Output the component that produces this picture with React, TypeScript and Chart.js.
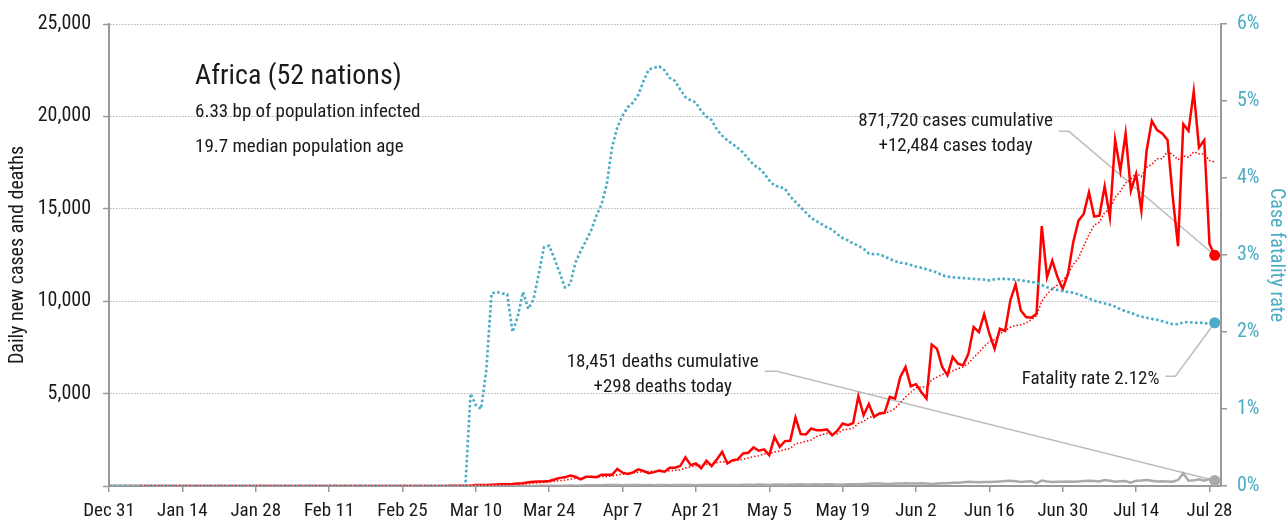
import React, { useEffect, useRef } from "react";
import { Chart, registerables } from "chart.js";

Chart.register(...registerables);

// ---- Axis tick labels (every 14 days from Dec 31) ----
const tickLabels = [
  "Dec 31", "Jan 14", "Jan 28", "Feb 11", "Feb 25", "Mar 10", "Mar 24", "Apr 7",
  "Apr 21", "May 5", "May 19", "Jun 2", "Jun 16", "Jun 30", "Jul 14", "Jul 28",
];
const tickDays = [0, 14, 28, 42, 56, 70, 84, 98, 112, 126, 140, 154, 168, 182, 196, 210];

// ---- Daily new cases, Dec 31 (day 0) .. Jul 29 (day 211) ----
const cases = [
  0, 0, 0, 0, 0, 0, 0, 0, 0, 0,
  0, 0, 0, 0, 0, 0, 0, 0, 0, 0,
  0, 0, 0, 0, 0, 0, 0, 0, 0, 0,
  0, 0, 0, 0, 0, 0, 0, 0, 0, 0,
  0, 0, 0, 0, 0, 1, 0, 0, 0, 0,
  0, 0, 0, 0, 0, 1, 0, 0, 1, 2,
  2, 1, 3, 5, 4, 10, 8, 15, 20, 30,
  50, 60, 60, 70, 80, 90, 100, 110, 140, 150,
  200, 230, 240, 250, 270, 350, 440, 470, 570, 500,
  360, 500, 500, 480, 610, 610, 610, 920, 720, 650,
  740, 900, 810, 690, 750, 830, 770, 990, 990, 1080,
  1550, 1130, 1220, 950, 1370, 1080, 1440, 1850, 1220, 1400,
  1440, 1760, 1800, 2090, 1910, 1980, 1670, 2660, 2120, 2430,
  2450, 3700, 2810, 2790, 3110, 3020, 3020, 3060, 2750, 2990,
  3380, 3290, 3400, 4860, 3830, 4430, 3740, 3920, 3960, 4820,
  4730, 5900, 6440, 5400, 5510, 5090, 4730, 7650, 7430, 6440,
  5990, 6980, 6620, 6530, 7160, 8600, 8330, 9290, 8240, 7430,
  8510, 8390, 10040, 10910, 9500, 9140, 9110, 9320, 14060, 11300,
  12200, 11300, 10670, 11480, 13190, 14360, 14720, 15890, 14580, 14630,
  16220, 14540, 18720, 17060, 19080, 15980, 16880, 14900, 18140, 19760,
  19260, 19080, 18720, 15620, 12980, 19580, 19220, 21350, 18320, 18720,
  13100, 12484,
];

// ---- 7-day average of new cases (dotted red) ----
const casesAvg = [
  null, null, null, null, null, null, 0, 0, 0, 0,
  0, 0, 0, 0, 0, 0, 0, 0, 0, 0,
  0, 0, 0, 0, 0, 0, 0, 0, 0, 0,
  0, 0, 0, 0, 0, 0, 0, 0, 0, 0,
  0, 0, 0, 0, 0, 0, 0, 0, 0, 0,
  0, 0, 0, 0, 0, 0, 0, 0, 0, 1,
  1, 1, 2, 2, 3, 4, 5, 7, 9, 13,
  20, 27, 34, 42, 51, 60, 70, 80, 93, 107,
  128, 153, 177, 201, 220, 250, 290, 320, 370, 410,
  430, 460, 480, 490, 500, 520, 540, 600, 640, 660,
  700, 740, 770, 780, 800, 810, 790, 820, 850, 870,
  980, 1030, 1100, 1130, 1180, 1190, 1260, 1300, 1320, 1330,
  1400, 1450, 1510, 1600, 1640, 1730, 1760, 1840, 1880, 1970,
  2030, 2290, 2340, 2420, 2490, 2680, 2770, 2850, 2790, 2820,
  3030, 3070, 3130, 3390, 3500, 3700, 3800, 3880, 3950, 4020,
  4200, 4500, 4820, 5070, 5320, 5360, 5350, 5740, 5890, 6040,
  6120, 6230, 6350, 6440, 6640, 6950, 7230, 7550, 7810, 7920,
  8230, 8400, 8590, 8690, 8720, 8820, 9000, 9210, 10000, 10380,
  10660, 10880, 11120, 11460, 11990, 12330, 12990, 13600, 14120, 14280,
  14800, 14990, 15610, 15950, 16400, 16600, 16930, 16740, 17250, 17400,
  17710, 17710, 18110, 17930, 17650, 17860, 17780, 18080, 17970, 17970,
  17610, 17540,
];

// ---- Daily new deaths ----
const deaths = [
  0, 0, 0, 0, 0, 0, 0, 0, 0, 0,
  0, 0, 0, 0, 0, 0, 0, 0, 0, 0,
  0, 0, 0, 0, 0, 0, 0, 0, 0, 0,
  0, 0, 0, 0, 0, 0, 0, 0, 0, 0,
  0, 0, 0, 0, 0, 0, 0, 0, 0, 0,
  0, 0, 0, 0, 0, 0, 0, 0, 0, 0,
  0, 0, 0, 0, 0, 0, 0, 0, 1, 0,
  1, 1, 2, 2, 0, 2, 2, 3, 2, 5,
  5, 6, 10, 10, 12, 15, 15, 20, 25, 20,
  30, 35, 40, 45, 40, 50, 60, 55, 45, 50,
  60, 55, 45, 50, 40, 50, 55, 45, 50, 60,
  55, 50, 45, 55, 60, 50, 55, 60, 50, 55,
  60, 65, 70, 55, 75, 70, 60, 80, 75, 70,
  85, 80, 90, 75, 85, 90, 80, 95, 100, 70,
  80, 90, 100, 95, 110, 120, 130, 140, 120, 110,
  130, 140, 145, 130, 140, 145, 130, 110, 130, 145,
  150, 170, 180, 200, 235, 220, 200, 210, 215, 230,
  250, 270, 290, 260, 215, 240, 255, 145, 290, 240,
  215, 230, 235, 240, 235, 250, 270, 290, 270, 250,
  325, 280, 235, 260, 270, 180, 290, 300, 325, 280,
  250, 255, 250, 235, 325, 684, 290, 310, 360, 290,
  370, 298,
];

// ---- Case fatality rate, % (right axis) ----
const fatalityRate = [
  0, 0, 0, 0, 0, 0, 0, 0, 0, 0,
  0, 0, 0, 0, 0, 0, 0, 0, 0, 0,
  0, 0, 0, 0, 0, 0, 0, 0, 0, 0,
  0, 0, 0, 0, 0, 0, 0, 0, 0, 0,
  0, 0, 0, 0, 0, 0, 0, 0, 0, 0,
  0, 0, 0, 0, 0, 0, 0, 0, 0, 0,
  0, 0, 0, 0, 0, 0, 0, 0, 0, 1.2,
  1.05, 1.0, 1.5, 2.5, 2.52, 2.5, 2.49, 2.0, 2.2, 2.52,
  2.3, 2.42, 2.75, 3.1, 3.12, 2.95, 2.77, 2.58, 2.62, 2.9,
  3.05, 3.18, 3.32, 3.51, 3.66, 3.92, 4.4, 4.66, 4.81, 4.92,
  4.98, 5.08, 5.26, 5.41, 5.43, 5.45, 5.4, 5.3, 5.26, 5.15,
  5.05, 5.01, 4.98, 4.87, 4.8, 4.75, 4.63, 4.55, 4.49, 4.44,
  4.39, 4.33, 4.25, 4.17, 4.13, 4.06, 3.97, 3.9, 3.885, 3.86,
  3.76, 3.69, 3.62, 3.55, 3.48, 3.44, 3.4, 3.36, 3.33, 3.27,
  3.22, 3.19, 3.15, 3.12, 3.08, 3.02, 3.01, 3.01, 2.98, 2.95,
  2.92, 2.9, 2.89, 2.87, 2.85, 2.835, 2.815, 2.795, 2.775, 2.735,
  2.72, 2.71, 2.705, 2.7, 2.695, 2.69, 2.685, 2.68, 2.67, 2.685,
  2.69, 2.69, 2.685, 2.68, 2.67, 2.66, 2.65, 2.64, 2.61, 2.58,
  2.56, 2.545, 2.53, 2.52, 2.51, 2.49, 2.465, 2.435, 2.405, 2.39,
  2.37, 2.355, 2.33, 2.295, 2.27, 2.25, 2.22, 2.2, 2.185, 2.17,
  2.16, 2.14, 2.12, 2.1, 2.1, 2.125, 2.13, 2.12, 2.12, 2.12,
  2.1, 2.12,
];

// day offset of each sample (x position on the linear date axis)
const dayIndex = cases.map((_, i) => i);

// ---- Text ----
const titleText = "Africa (52 nations)";
const subtitleLines = ["6.33 bp of population infected", "19.7 median population age"];
const notes = [
  { lines: ["871,720 cases cumulative", "+12,484 cases today"], align: "center", day: 161.55, value: 19490, leaderDy: 5.5, leaderRun: 10, target: 0 },
  { lines: ["18,451 deaths cumulative", "+298 deaths today"], align: "center", day: 105.66, value: 6425, leaderDy: 4, leaderRun: 12, target: 1 },
  { lines: ["Fatality rate 2.12%"], align: "right", day: 200.46, value: 5508, leaderDy: -8, leaderRun: 10, target: 2 },
];

const RED = "#ff0000";
const TEAL = "#4bacc6";
const GRAY = "#aaaaaa";
const AXIS = "#999999";
const GRID = "#b4b4b4";
const INK = "#1a1a1a";
const LEADER = "#bdbdbd";

function pickFont(): string {
  const c = document.createElement("canvas").getContext("2d");
  if (!c) return "sans-serif";
  const probe = "Africa (52 nations) 871,720 cases";
  const candidates = ["Liberation Sans Narrow", "Roboto Condensed", "DejaVu Sans Condensed", "Liberation Sans"];
  for (const f of candidates) {
    let differs = false;
    for (const base of ["monospace", "serif"]) {
      c.font = `20px ${base}`;
      const a = c.measureText(probe).width;
      c.font = `20px "${f}", ${base}`;
      const b = c.measureText(probe).width;
      if (Math.abs(a - b) > 0.5) differs = true; else { differs = false; break; }
    }
    if (differs) return f;
  }
  return "sans-serif";
}

export default function App() {
  const ref = useRef<HTMLCanvasElement | null>(null);

  useEffect(() => {
    document.body.style.margin = "0";
    const family = pickFont();
    const FAMILY = `"${family}", sans-serif`;
    Chart.defaults.font.family = FAMILY;

    const last = cases.length - 1;
    const endDot = (r: number) => (ctx: any) => (ctx.dataIndex === last ? r : 0);

    const textPlugin = {
      id: "textNotes",
      beforeDatasetsDraw(chart: any) {
        const { ctx } = chart;
        const xs = chart.scales.x;
        const ys = chart.scales.y;
        ctx.save();
        ctx.font = `19px ${FAMILY}`;
        ctx.strokeStyle = LEADER;
        ctx.lineWidth = 1.5;
        notes.forEach((n) => {
          const ax = xs.getPixelForValue(n.day);
          const ay = ys.getPixelForValue(n.value);
          const w = Math.max(...n.lines.map((l) => ctx.measureText(l).width));
          const right = n.align === "center" ? ax + w / 2 : ax;
          const el = chart.getDatasetMeta(n.target).data[last];
          const sx = right + 6;
          const sy = ay + n.leaderDy;
          ctx.beginPath();
          ctx.moveTo(sx, sy);
          ctx.lineTo(sx + n.leaderRun, sy);
          ctx.lineTo(el.x, el.y);
          ctx.stroke();
        });
        ctx.restore();
      },
      afterDatasetsDraw(chart: any) {
        const { ctx, chartArea } = chart;
        const xs = chart.scales.x;
        const ys = chart.scales.y;
        ctx.save();
        ctx.fillStyle = INK;
        ctx.textBaseline = "alphabetic";
        // title block
        const tx = chartArea.left + 86;
        ctx.textAlign = "left";
        ctx.font = `28px ${FAMILY}`;
        ctx.fillText(titleText, tx, chartArea.top + 60);
        ctx.font = `19px ${FAMILY}`;
        subtitleLines.forEach((l, i) => ctx.fillText(l, tx, chartArea.top + 93 + i * 35));
        // annotations
        notes.forEach((n) => {
          const ax = xs.getPixelForValue(n.day);
          const ay = ys.getPixelForValue(n.value);
          ctx.textAlign = n.align as CanvasTextAlign;
          n.lines.forEach((l, i) => ctx.fillText(l, ax, ay + i * 25));
        });
        ctx.restore();
      },
    };

    const chart = new Chart(ref.current as HTMLCanvasElement, {
      type: "line",
      data: {
        labels: dayIndex,
        datasets: [
          {
            label: "Daily new cases",
            data: cases,
            yAxisID: "y",
            borderColor: RED,
            backgroundColor: RED,
            borderWidth: 2.5,
            pointRadius: endDot(5.5),
            pointHoverRadius: 0,
            pointBorderWidth: 0,
            pointBackgroundColor: RED,
            order: 4,
          },
          {
            label: "Daily deaths",
            data: deaths,
            yAxisID: "y",
            borderColor: GRAY,
            backgroundColor: GRAY,
            borderWidth: 2.5,
            pointRadius: endDot(5.5),
            pointHoverRadius: 0,
            pointBorderWidth: 0,
            pointBackgroundColor: GRAY,
            order: 3,
          },
          {
            label: "Case fatality rate",
            data: fatalityRate,
            yAxisID: "y1",
            borderColor: TEAL,
            backgroundColor: TEAL,
            borderWidth: 2.6,
            borderDash: [2.6, 2.4],
            pointRadius: endDot(5.5),
            pointHoverRadius: 0,
            pointBorderWidth: 0,
            pointBackgroundColor: TEAL,
            order: 2,
          },
          {
            label: "7-day average cases",
            data: casesAvg,
            yAxisID: "y",
            borderColor: RED,
            borderWidth: 1.5,
            borderDash: [1.5, 2],
            pointRadius: 0,
            pointHoverRadius: 0,
            order: 1,
          },
        ],
      },
      options: {
        responsive: false,
        animation: false,
        devicePixelRatio: 1,
        layout: { padding: { top: 23, left: 0, right: 0, bottom: 0 } },
        plugins: { legend: { display: false }, tooltip: { enabled: false }, title: { display: false } },
        elements: { line: { tension: 0 } },
        scales: {
          x: {
            type: "linear",
            min: 0,
            max: 212.2,
            afterBuildTicks: (s: any) => {
              s.ticks = tickDays.map((v) => ({ value: v }));
            },
            ticks: {
              autoSkip: false,
              maxRotation: 0,
              color: INK,
              font: { size: 19 },
              padding: 8,
              callback: (_v: any, i: number) => tickLabels[i],
            },
            grid: { drawOnChartArea: false, drawTicks: true, tickLength: 6, color: AXIS, lineWidth: 1.5 },
            border: { color: AXIS, width: 2 },
            afterFit: (s: any) => {
              s.height = 37;
            },
          },
          y: {
            position: "left",
            min: 0,
            max: 25000,
            ticks: {
              stepSize: 5000,
              color: INK,
              font: { size: 20 },
              padding: 12,
              callback: (v: any) => (v === 0 ? "" : Number(v).toLocaleString("en-US")),
            },
            grid: {
              color: (c: any) => (c.tick && c.tick.value === 0 ? "rgba(0,0,0,0)" : GRID),
              lineWidth: 1,
              tickColor: AXIS,
              tickWidth: 1.5,
              tickLength: 6,
              tickBorderDash: [],
            },
            border: { color: AXIS, width: 2, dash: [1.5, 1.5] },
            title: {
              display: true,
              text: "Daily new cases and deaths",
              color: INK,
              font: { size: 20 },
              padding: { top: 6, bottom: 0 },
            },
            afterFit: (s: any) => {
              s.width = 109;
            },
          },
          y1: {
            position: "right",
            min: 0,
            max: 6,
            ticks: {
              stepSize: 1,
              color: TEAL,
              font: { size: 20 },
              padding: 10,
              callback: (v: any) => `${v}%`,
            },
            grid: { drawOnChartArea: false, drawTicks: true, tickLength: 6, color: AXIS, lineWidth: 1.5 },
            border: { color: AXIS, width: 2 },
            title: {
              display: true,
              text: "Case fatality rate",
              color: TEAL,
              font: { size: 20 },
              padding: { top: 0, bottom: 0 },
            },
            afterFit: (s: any) => {
              s.width = 67;
            },
          },
        },
      },
      plugins: [textPlugin],
    } as any);

    return () => chart.destroy();
  }, []);

  return (
    <canvas
      ref={ref}
      width={1288}
      height={523}
      style={{ display: "block", width: 1288, height: 523 }}
    />
  );
}
